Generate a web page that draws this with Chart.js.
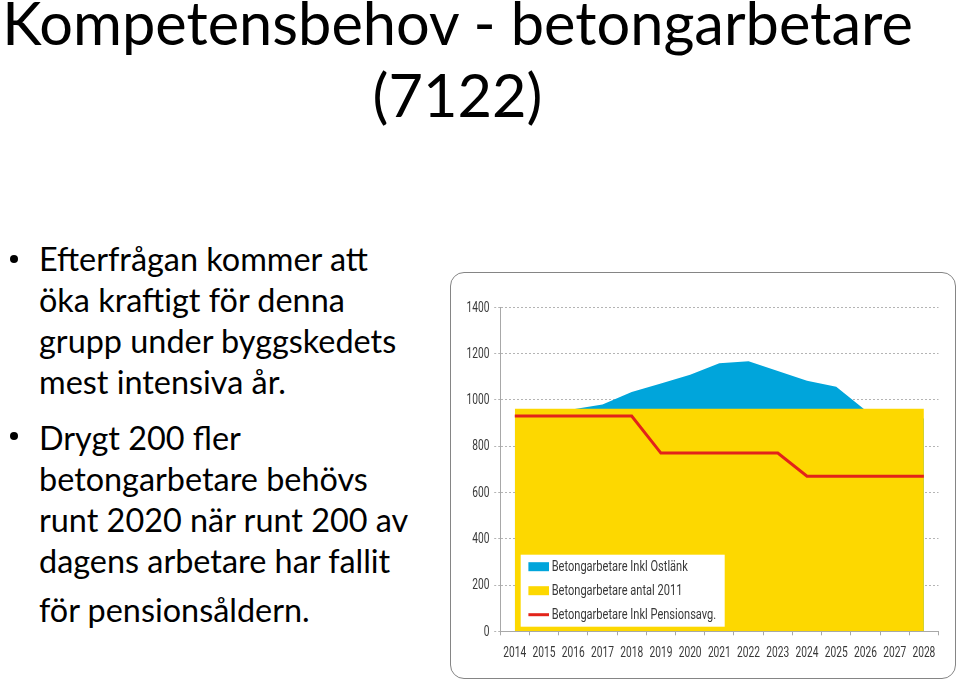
<!DOCTYPE html>
<html lang="sv">
<head>
<meta charset="utf-8">
<script src="https://cdn.jsdelivr.net/npm/chart.js@4.4.1/dist/chart.umd.min.js"></script>
<style>
  html, body { margin: 0; padding: 0; background: #fff; }
  body { width: 960px; height: 684px; position: relative; overflow: hidden; font-family: Lato, "Open Sans", sans-serif; color: #000; }
  #title { position: absolute; left: 0; top: -14px; width: 915px; text-align: center; font-size: 59.5px; line-height: 72px; white-space: nowrap; }
  .txt { position: absolute; left: 39px; font-size: 32.4px; line-height: 41px; white-space: nowrap; }
  .dot { position: absolute; left: 10px; width: 8px; height: 8px; border-radius: 50%; background: #000; }
  #chartBox { position: absolute; left: 450px; top: 272px; width: 504px; height: 405px; border: 1.5px solid #858585; border-radius: 14px; overflow: hidden; }
  #chartBox canvas { position: absolute; left: 0; top: 0; }
</style>
</head>
<body>
<div id="title">Kompetensbehov - betongarbetare<br>(7122)</div>

<div class="dot" style="top:255px"></div>
<div class="txt" style="top:238px">Efterfrågan kommer att<br>öka kraftigt för denna<br>grupp under byggskedets<br>mest intensiva år.</div>

<div class="dot" style="top:432px"></div>
<div class="txt" style="top:417px">Drygt 200 fler<br>betongarbetare behövs<br>runt 2020 när runt 200 av<br>dagens arbetare har fallit</div>
<div class="txt" style="top:589px">för pensionsåldern.</div>

<div id="chartBox"><canvas id="chart"></canvas></div>

<script>
// ====== Data ======
const years = ["2014", "2015", "2016", "2017", "2018", "2019", "2020", "2021", "2022", "2023", "2024", "2025", "2026", "2027", "2028"];
const inklOstlank = [935, 945, 960, 980, 1034, 1071, 1109, 1158, 1167, 1125, 1083, 1057, 955, 935, 920];
const antal2011 = [962, 962, 962, 962, 962, 962, 962, 962, 962, 962, 962, 962, 962, 962, 962];
const inklPension = [930, 930, 930, 930, 930, 770, 770, 770, 770, 770, 670, 670, 670, 670, 670];
const yTicks = [0, 200, 400, 600, 800, 1000, 1200, 1400];

const BLUE = "#00a5db";
const YELLOW = "#fdd800";
const RED = "#e2231a";
const TEXT = "#383838";

// the chart uses a condensed DIN-like face; squeeze Roboto sideways to get close
function condensedText(ctx, text, x, y, align, squeeze) {
  ctx.save();
  ctx.translate(x, y);
  ctx.scale(squeeze, 1);
  ctx.textAlign = align;
  ctx.fillText(text, 0, 0);
  ctx.restore();
}

// ====== Tick labels ======
const condensedTicks = {
  id: "condensedTicks",
  afterDraw(chart) {
    const { ctx } = chart;
    const xs = chart.scales.x, ys = chart.scales.y;
    ctx.save();
    ctx.font = "15px Roboto, sans-serif";
    ctx.fillStyle = TEXT;
    ctx.textBaseline = "middle";
    xs.ticks.forEach((t, i) => {
      condensedText(ctx, xs.getLabelForValue(t.value), xs.getPixelForTick(i), xs.top + 22, "center", 0.68);
    });
    ys.ticks.forEach((t, i) => {
      condensedText(ctx, String(t.value), ys.right - 10.7, ys.getPixelForTick(i) + 0.5, "right", 0.68);
    });
    ctx.restore();
  },
};

// ====== Legend: white box inside the plot, bottom left ======
const boxLegend = {
  id: "boxLegend",
  afterDatasetsDraw(chart) {
    const { ctx, chartArea } = chart;
    const w = 204, h = 72;
    const x0 = chartArea.left + 20.5;
    const y0 = chartArea.bottom - 4.6 - h;
    ctx.save();
    ctx.fillStyle = "#fff";
    ctx.fillRect(x0, y0, w, h);
    ctx.font = "14px Roboto, sans-serif";
    ctx.textBaseline = "middle";
    chart.data.datasets.forEach((ds, i) => {
      const cy = y0 + 12 + i * 24;
      if (ds.fill) {
        ctx.fillStyle = ds.backgroundColor;
        ctx.fillRect(x0 + 7.7, cy - 4.5, 20.6, 9);
      } else {
        ctx.strokeStyle = ds.borderColor;
        ctx.lineWidth = 3;
        ctx.beginPath();
        ctx.moveTo(x0 + 7.7, cy);
        ctx.lineTo(x0 + 28.3, cy);
        ctx.stroke();
      }
      ctx.fillStyle = TEXT;
      condensedText(ctx, ds.label, x0 + 31, cy + 0.5, "left", 0.79);
    });
    ctx.restore();
  },
};

const chart = new Chart(document.getElementById("chart"), {
  type: "line",
  data: {
    labels: years,
    datasets: [
      {
        label: "Betongarbetare Inkl Ostlänk",
        data: inklOstlank,
        fill: "origin",
        backgroundColor: BLUE,
        borderWidth: 0,
        pointRadius: 0,
        order: 3,
      },
      {
        label: "Betongarbetare antal 2011",
        data: antal2011,
        fill: "origin",
        backgroundColor: YELLOW,
        borderWidth: 0,
        pointRadius: 0,
        order: 2,
      },
      {
        label: "Betongarbetare Inkl Pensionsavg.",
        data: inklPension,
        fill: false,
        borderColor: RED,
        borderWidth: 3,
        pointRadius: 0,
        order: 1,
      },
    ],
  },
  options: {
    responsive: true,
    maintainAspectRatio: false,
    animation: false,
    layout: { padding: { top: 34.3, right: 16.5, left: 0, bottom: 0 } },
    plugins: { legend: { display: false }, tooltip: { enabled: false } },
    elements: { line: { tension: 0 } },
    scales: {
      x: {
        offset: true,
        grid: { drawOnChartArea: false, drawTicks: true, tickLength: 4, color: "#a8a8a8", offset: true },
        border: { display: true, color: "#a8a8a8", width: 1 },
        ticks: { display: false, autoSkip: false, maxRotation: 0 },
        afterFit: (s) => { s.height = 46.7; },
      },
      y: {
        min: 0,
        max: 1400,
        afterBuildTicks: (s) => { s.ticks = yTicks.map((v) => ({ value: v })); },
        grid: { color: "#b4b4b4", tickLength: 6, tickBorderDash: [2, 2] },
        border: { display: true, color: "#a8a8a8", width: 1, dash: [2, 2] },
        ticks: { display: false },
        afterFit: (s) => { s.width = 49.2; },
      },
    },
  },
  plugins: [boxLegend, condensedTicks],
});
</script>
</body>
</html>
